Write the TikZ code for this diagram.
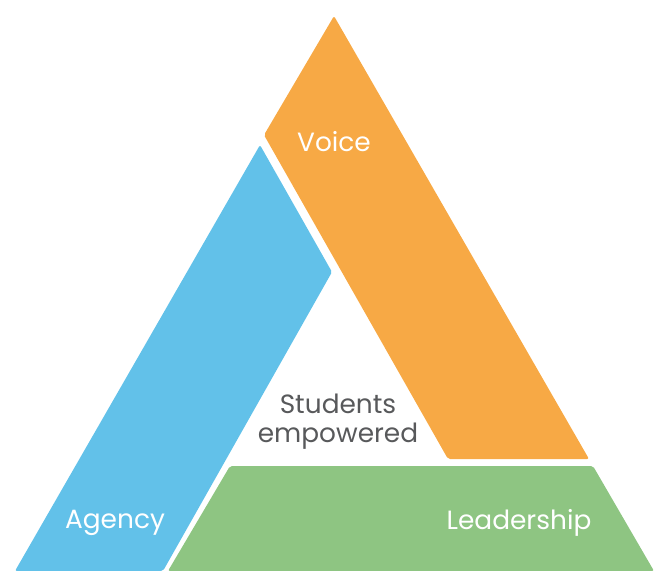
\documentclass[tikz,border=0pt]{standalone}
\usepackage{fontspec}
\setmainfont{Poppins}
\definecolor{voiceorange}{HTML}{F7A945}
\definecolor{agencyblue}{HTML}{62C1E9}
\definecolor{leadgreen}{HTML}{8EC582}
\definecolor{centregrey}{HTML}{58595B}
\tikzset{
  band/.style={rounded corners=1.5pt},
  bandlabel/.style={text=white, font=\fontsize{19.8}{22}\selectfont},
}
\begin{document}
\begin{tikzpicture}[x=0.75pt,y=-0.75pt]
        \useasboundingbox (0,0) rectangle (654,571);

        \fill[band, voiceorange] (334,16) -- (589,459) -- (448,459) -- (264,135) -- cycle;
        \node[bandlabel] (voice) at (334,142) {Voice};

        \fill[band, agencyblue] (260,145) -- (332,272) -- (163,571) -- (15,571) -- cycle;
        \node[bandlabel] (agency) at (115,523) {Agency};

        \fill[band, leadgreen] (230,466) -- (593,466) -- (654,571) -- (168,571) -- cycle;
        \node[bandlabel] (leadership) at (519,523) {Leadership};

        \node[align=center, text=centregrey, font=\fontsize{19.8}{21.8}\selectfont] (empowered) at (338,422) {Students\\empowered};
      \end{tikzpicture}
\end{document}
